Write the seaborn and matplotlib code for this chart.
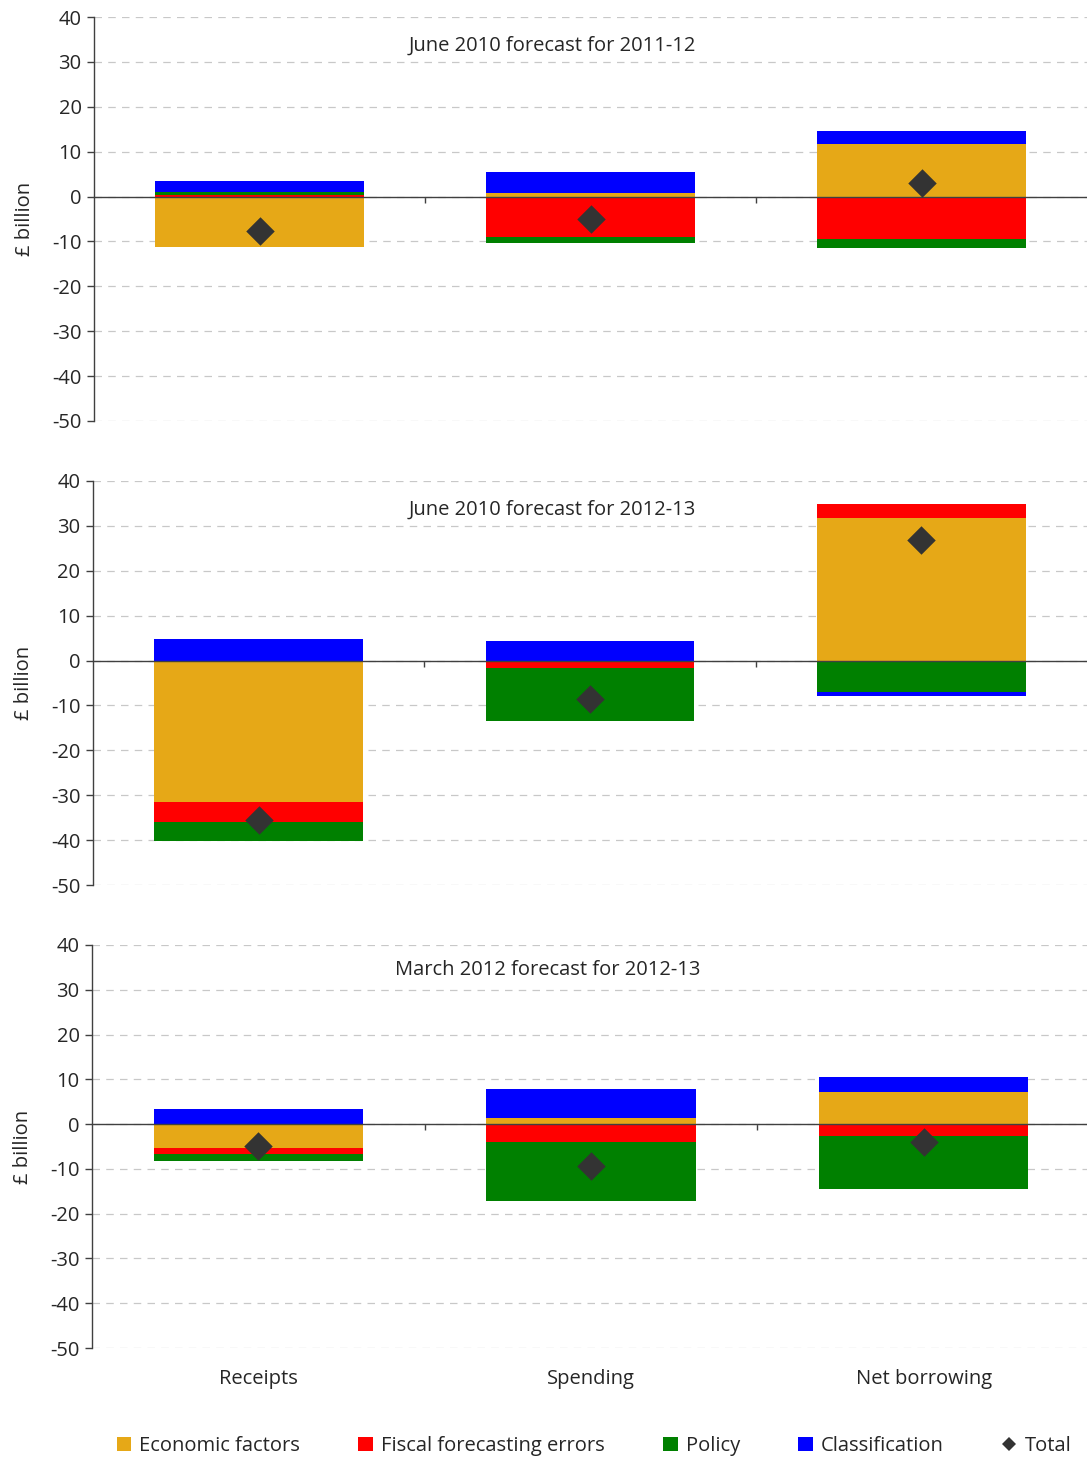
import matplotlib
matplotlib.use("Agg")
import matplotlib.pyplot as plt
import seaborn as sns
import numpy as np
from matplotlib.patches import Patch
from matplotlib.lines import Line2D
from matplotlib.transforms import blended_transform_factory

# ---------------- data ----------------
categories = ["Receipts", "Spending", "Net borrowing"]
components = ["Economic factors", "Fiscal forecasting errors", "Policy", "Classification"]
panel_titles = ["June 2010 forecast for 2011-12",
                "June 2010 forecast for 2012-13",
                "March 2012 forecast for 2012-13"]

# June 2010 forecast for 2011-12
p1_economic = [-11.2, 0.7, 11.7]
p1_fiscal = [0.3, -9.1, -9.5]
p1_policy = [0.8, -1.2, -2.0]
p1_classification = [2.3, 4.7, 3.0]
p1_total = [-7.7, -5.1, 3.0]

# June 2010 forecast for 2012-13
p2_economic = [-31.6, 0.0, 31.8]
p2_fiscal = [-4.3, -1.6, 3.0]
p2_policy = [-4.2, -11.8, -6.9]
p2_classification = [4.8, 4.4, -1.1]
p2_total = [-35.5, -8.6, 26.9]

# March 2012 forecast for 2012-13
p3_economic = [-5.4, 1.3, 7.1]
p3_fiscal = [-1.3, -4.0, -2.7]
p3_policy = [-1.6, -13.1, -11.8]
p3_classification = [3.35, 6.5, 3.4]
p3_total = [-4.9, -9.3, -3.9]

y_ticks = [40, 30, 20, 10, 0, -10, -20, -30, -40, -50]
y_label = "£ billion"
total_label = "Total"

panels = [
    (p1_economic, p1_fiscal, p1_policy, p1_classification, p1_total),
    (p2_economic, p2_fiscal, p2_policy, p2_classification, p2_total),
    (p3_economic, p3_fiscal, p3_policy, p3_classification, p3_total),
]

# ---------------- style ----------------
colors = ["#E6A817", "#FF0000", "#008000", "#0000FF"]
total_color = "#333333"
axis_color = "#404040"
text_color = "#262626"

sns.set_theme(style="white")
plt.rcParams["font.family"] = ["Open Sans", "DejaVu Sans"]
plt.rcParams["axes.unicode_minus"] = False

fs = 14.5

fig = plt.figure(figsize=(10.87, 14.61), dpi=100)
W, H = 1087, 1461
rects = [  # left, top, bottom, right in pixels
    (94, 17, 421, 1087),
    (93, 481, 885, 1087),
    (92, 945, 1348, 1090),
]
title_pos = [(0.462, 0.928), (0.462, 0.928), (0.457, 0.938)]

axes = []
for pi, (left, top, bottom, right) in enumerate(rects):
    ax = fig.add_axes([left / W, 1 - bottom / H, (right - left) / W, (bottom - top) / H])
    axes.append(ax)
    data = panels[pi]
    pos_base = np.zeros(len(categories))
    neg_base = np.zeros(len(categories))
    for ci in range(4):
        vals = np.array(data[ci], dtype=float)
        base = np.where(vals >= 0, pos_base, neg_base)
        sns.barplot(x=categories, y=vals, order=categories, bottom=base,
                    color=colors[ci], saturation=1, width=0.63, errorbar=None,
                    linewidth=0, ax=ax, zorder=1)
        pos_base = pos_base + np.where(vals >= 0, vals, 0)
        neg_base = neg_base + np.where(vals < 0, vals, 0)
    sns.stripplot(x=categories, y=data[4], order=categories, jitter=False,
                  marker="D", size=14.5, color=total_color, linewidth=0,
                  ax=ax, zorder=5)

    ax.set_xlim(-0.5, 2.5)
    ax.set_ylim(-50, 40)
    ax.set_yticks(y_ticks)
    ax.set_yticklabels([str(t) for t in y_ticks], fontsize=fs, color=text_color)
    ax.set_xticks([0.5, 1.5])
    ax.set_xticklabels([])
    ax.set_xlabel("")
    ax.set_ylabel(y_label, fontsize=fs, color=text_color, labelpad=12)

    ax.yaxis.grid(True, linestyle=(0, (6, 5)), color="#c8c8c8", linewidth=0.9)
    ax.xaxis.grid(False)
    ax.set_axisbelow(True)
    for s in ["top", "right"]:
        ax.spines[s].set_visible(False)
    ax.spines["left"].set_color(axis_color)
    ax.spines["left"].set_linewidth(1.0)
    ax.spines["bottom"].set_position(("data", 0))
    ax.spines["bottom"].set_color(axis_color)
    ax.spines["bottom"].set_linewidth(1.0)
    ax.tick_params(axis="y", which="both", left=True, direction="out",
                   length=5, width=1, color=axis_color, pad=4)
    ax.tick_params(axis="x", which="both", bottom=True, direction="out",
                   length=4, width=1, color=axis_color)

    tx, ty = title_pos[pi]
    ax.text(tx, ty, panel_titles[pi], transform=ax.transAxes, ha="center",
            va="center", fontsize=fs, color=text_color)

# category labels under the bottom panel
ax = axes[-1]
trans = blended_transform_factory(ax.transData, ax.transAxes)
for i, c in enumerate(categories):
    ax.text(i, -0.077, c, transform=trans, ha="center", va="center",
            fontsize=fs, color=text_color)

handles = [Patch(facecolor=colors[i], edgecolor="none") for i in range(4)]
handles.append(Line2D([], [], marker="D", linestyle="none", color=total_color,
                      markersize=7.5, markeredgewidth=0))
labels = components + [total_label]
leg = fig.legend(handles, labels, loc="center", bbox_to_anchor=(0.5465, 1 - 1446 / H),
                 ncol=5, frameon=False, fontsize=14.5, handlelength=0.72,
                 handleheight=0.72, handletextpad=0.4, columnspacing=2.9)
for t in leg.get_texts():
    t.set_color(text_color)

fig.savefig("out.png", dpi=100)
